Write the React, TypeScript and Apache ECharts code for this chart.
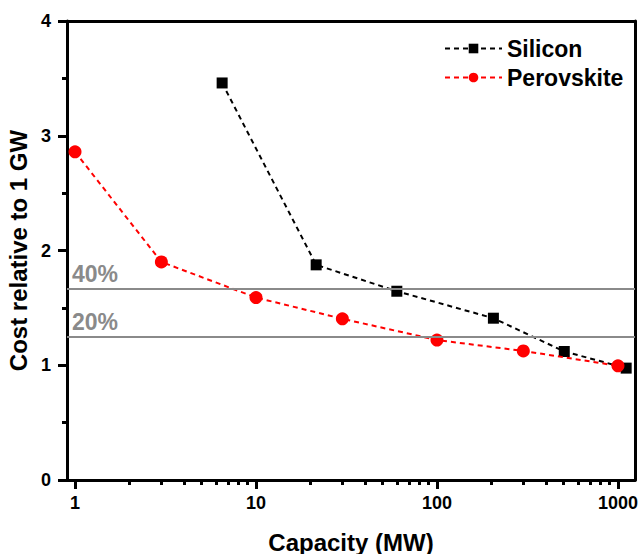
import React, { useEffect, useRef } from "react";
import * as echarts from "echarts";

const siliconCapacity = [6.5, 21.5, 60, 205, 505, 1110];
const siliconCost = [3.46, 1.875, 1.645, 1.41, 1.12, 0.975];
const perovskiteCapacity = [1, 3, 10, 30, 100, 300, 1000];
const perovskiteCost = [2.86, 1.9, 1.59, 1.405, 1.22, 1.125, 0.995];
const thresholdValues = [1.667, 1.25];
const thresholdLabels = ["40%", "20%"];
const xMajorTicks = [1, 10, 100, 1000];
const xMinorTicks = [2, 3, 4, 5, 6, 7, 8, 9, 20, 30, 40, 50, 60, 70, 80, 90, 200, 300, 400, 500, 600, 700, 800, 900];
const seriesNames = ["Silicon", "Perovskite"];

const FONT = "'Liberation Sans', Arial, sans-serif";
const LINE_C = "#000";
const TICK_C = "#000";

export default function App() {
  const ref = useRef<HTMLDivElement>(null);
  useEffect(() => {
    if (!ref.current) return;
    const chart = echarts.init(ref.current, null, { renderer: "svg" });
    const xMin = 0.903;
    const xMax = 1242;
    chart.setOption({
      animation: false,
      grid: { left: 67, top: 21, right: 4, bottom: 74, outerBoundsMode: "none" },
      legend: {
        orient: "vertical",
        left: 439,
        top: 32,
        itemWidth: 57,
        itemHeight: 12,
        itemGap: 6,
        data: seriesNames,
        textStyle: { fontFamily: FONT, fontWeight: "bold", fontSize: 23, color: "#000" },
      },
      xAxis: [
        {
          type: "log",
          min: xMin,
          max: xMax,
          position: "bottom",
          splitLine: { show: false },
          name: "Capacity (MW)",
          nameLocation: "middle",
          nameGap: 50,
          nameTextStyle: { fontFamily: FONT, fontWeight: "bold", fontSize: 24, color: "#000" },
          axisLine: { show: true, onZero: false, lineStyle: { color: LINE_C, width: 3 } },
          axisTick: { show: true, inside: false, length: 9, customValues: xMajorTicks, lineStyle: { color: TICK_C, width: 3 } },
          axisLabel: {
            show: true,
            customValues: xMajorTicks,
            formatter: (v: number) => String(Math.round(v)),
            margin: 14,
            fontFamily: FONT,
            fontWeight: "bold",
            fontSize: 18,
            color: "#000",
          },
        },
        {
          type: "log",
          min: xMin,
          max: xMax,
          position: "bottom",
          splitLine: { show: false },
          axisLine: { show: false, onZero: false },
          axisTick: { show: true, inside: false, length: 5, customValues: xMinorTicks, lineStyle: { color: TICK_C, width: 3 } },
          axisLabel: { show: false },
        },
        {
          type: "log",
          min: xMin,
          max: xMax,
          position: "top",
          splitLine: { show: false },
          axisLine: { show: true, onZero: false, lineStyle: { color: LINE_C, width: 3 } },
          axisTick: { show: false },
          axisLabel: { show: false },
        },
      ],
      yAxis: [
        {
          type: "value",
          position: "left",
          min: 0,
          max: 4,
          interval: 1,
          name: "Cost relative to 1 GW",
          nameLocation: "middle",
          nameGap: 29,
          nameTextStyle: { fontFamily: FONT, fontWeight: "bold", fontSize: 24, color: "#000" },
          splitLine: { show: false },
          axisLine: { show: true, onZero: false, lineStyle: { color: LINE_C, width: 3 } },
          axisTick: { show: true, inside: false, length: 9, lineStyle: { color: TICK_C, width: 3 } },
          minorTick: { show: true, splitNumber: 2, length: 5, lineStyle: { color: TICK_C, width: 3 } },
          axisLabel: { margin: 16, fontFamily: FONT, fontWeight: "bold", fontSize: 18, color: "#000" },
        },
        {
          type: "value",
          position: "right",
          min: 0,
          max: 4,
          interval: 1,
          splitLine: { show: false },
          axisLine: { show: true, onZero: false, lineStyle: { color: LINE_C, width: 3 } },
          axisTick: { show: false },
          axisLabel: { show: false },
        },
      ],
      series: [
        {
          name: seriesNames[0],
          type: "line",
          xAxisIndex: 0,
          yAxisIndex: 0,
          data: siliconCapacity.map((c, i) => [c, siliconCost[i]]),
          symbol: "rect",
          symbolSize: 11,
          itemStyle: { color: "#000" },
          lineStyle: { color: "#000", width: 2, type: [5, 4] },
          z: 3,
          markLine: {
            silent: true,
            symbol: "none",
            animation: false,
            lineStyle: { color: "#8a8a8a", width: 2, type: "solid" },
            data: thresholdValues.map((v, i) => ({
              yAxis: v,
              label: {
                show: true,
                position: "insideStartTop",
                formatter: thresholdLabels[i],
                color: "#8a8a8a",
                fontFamily: FONT,
                fontWeight: "bold",
                fontSize: 23,
                distance: [5, 3],
              },
            })),
          },
        },
        {
          name: seriesNames[1],
          type: "line",
          xAxisIndex: 0,
          yAxisIndex: 0,
          data: perovskiteCapacity.map((c, i) => [c, perovskiteCost[i]]),
          symbol: "circle",
          symbolSize: 13,
          itemStyle: { color: "#ff0000" },
          lineStyle: { color: "#ff0000", width: 2, type: [5, 4] },
          z: 4,
        },
      ],
    });
    return () => chart.dispose();
  }, []);
  return <div ref={ref} style={{ width: 639, height: 554, position: "absolute", left: 0, top: 0 }} />;
}
